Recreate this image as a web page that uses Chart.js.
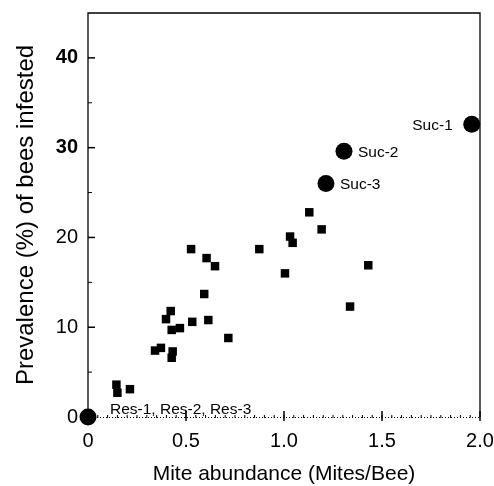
<!DOCTYPE html>
<html>
<head>
<meta charset="utf-8">
<script src="https://cdn.jsdelivr.net/npm/chart.js@4/dist/chart.umd.min.js"></script>
<style>
  html, body { margin: 0; padding: 0; background: #fff; }
  #wrap { width: 494px; height: 486px; }
</style>
</head>
<body>
<div id="wrap"><canvas id="myChart" width="494" height="486"></canvas></div>
<script>
// colonies (squares)
var squareX = [0.145, 0.15, 0.214, 0.342, 0.372, 0.432, 0.427, 0.398, 0.422, 0.427, 0.469, 0.532, 0.526, 0.605, 0.648, 0.593, 0.614, 0.716, 0.874, 1.005, 1.031, 1.044, 1.129, 1.192, 1.337, 1.430];
var squareY = [3.6, 2.7, 3.1, 7.4, 7.7, 7.3, 6.6, 10.9, 11.8, 9.7, 9.9, 10.6, 18.7, 17.7, 16.8, 13.7, 10.8, 8.8, 18.7, 16.0, 20.1, 19.4, 22.8, 20.9, 12.3, 16.9];
// susceptible lines
var sucNames = ['Suc-1', 'Suc-2', 'Suc-3'];
var sucX = [1.958, 1.306, 1.214];
var sucY = [32.6, 29.6, 26.0];
// resistant lines (all at zero)
var resNames = 'Res-1, Res-2, Res-3';
var resX = [0];
var resY = [0];

var yTicks = [0, 10, 20, 30, 40];
var yMinor = [5, 15, 25, 35];
var xTicks = [0, 0.5, 1.0, 1.5, 2.0];

var fontFam = '"Liberation Sans", Arial, sans-serif';

function toPoints(xs, ys) {
  var pts = [];
  for (var i = 0; i < xs.length; i++) {
    pts.push({x: xs[i], y: ys[i]});
  }
  return pts;
}

// frame, inward ticks and point labels
var decorations = {
  id: 'decorations',
  afterDatasetsDraw: function(chart) {
    var ctx = chart.ctx;
    var a = chart.chartArea;
    var xs = chart.scales.x, ys = chart.scales.y;
    ctx.save();
    ctx.strokeStyle = '#000';
    ctx.lineWidth = 1.3;
    ctx.beginPath();
    ctx.moveTo(a.left, a.bottom);
    ctx.lineTo(a.left, a.top);
    ctx.lineTo(a.right, a.top);
    ctx.lineTo(a.right, a.bottom);
    ctx.stroke();

    // dotted bottom axis
    ctx.lineWidth = 1.2;
    ctx.setLineDash([1, 2]);
    ctx.beginPath();
    ctx.moveTo(a.left, a.bottom + 0.5);
    ctx.lineTo(a.right, a.bottom + 0.5);
    ctx.stroke();
    ctx.setLineDash([]);

    // y ticks inward
    ctx.lineWidth = 1.5;
    yTicks.forEach(function(v) {
      var py = ys.getPixelForValue(v);
      ctx.beginPath();
      ctx.moveTo(a.left, py);
      ctx.lineTo(a.left + 7, py);
      ctx.stroke();
    });
    ctx.lineWidth = 1;
    yMinor.forEach(function(v) {
      var py = ys.getPixelForValue(v);
      ctx.beginPath();
      ctx.moveTo(a.left, py);
      ctx.lineTo(a.left + 4, py);
      ctx.stroke();
    });
    // x ticks crossing
    ctx.lineWidth = 1.5;
    xTicks.forEach(function(v) {
      var px = xs.getPixelForValue(v);
      ctx.beginPath();
      ctx.moveTo(px, a.bottom - 6);
      ctx.lineTo(px, a.bottom + 4);
      ctx.stroke();
    });
    ctx.lineWidth = 1;
    for (var k = 1; k < 40; k++) {
      var px = xs.getPixelForValue(k * 0.05);
      ctx.beginPath();
      ctx.moveTo(px, a.bottom - 2);
      ctx.lineTo(px, a.bottom + 1);
      ctx.stroke();
    }

    // labels
    ctx.fillStyle = '#000';
    ctx.font = '15.5px ' + fontFam;
    ctx.textBaseline = 'middle';
    for (var i = 0; i < sucNames.length; i++) {
      var lx = xs.getPixelForValue(sucX[i]);
      var ly = ys.getPixelForValue(sucY[i]);
      if (i === 0) {
        ctx.textAlign = 'right';
        ctx.fillText(sucNames[i], lx - 19, ly + 1);
      } else {
        ctx.textAlign = 'left';
        ctx.fillText(sucNames[i], lx + 14, ly + 1);
      }
    }
    ctx.textAlign = 'left';
    ctx.fillText(resNames, xs.getPixelForValue(resX[0]) + 22, ys.getPixelForValue(resY[0]) - 7);
    ctx.restore();
  }
};

document.addEventListener('DOMContentLoaded', function() {
  var ctx = document.getElementById('myChart').getContext('2d');
  var chart = new Chart(ctx, {
    type: 'scatter',
    data: {
      datasets: [{
        label: 'Colonies',
        data: toPoints(squareX, squareY),
        pointStyle: 'rect',
        pointRadius: 6,
        backgroundColor: '#000',
        borderColor: '#000',
        borderWidth: 0,
        clip: false
      }, {
        label: 'Susceptible',
        data: toPoints(sucX, sucY),
        pointStyle: 'circle',
        pointRadius: 8.5,
        backgroundColor: '#000',
        borderColor: '#000',
        borderWidth: 0,
        clip: false
      }, {
        label: 'Resistant',
        data: toPoints(resX, resY),
        pointStyle: 'circle',
        pointRadius: 8.5,
        backgroundColor: '#000',
        borderColor: '#000',
        borderWidth: 0,
        clip: false
      }]
    },
    options: {
      responsive: false,
      animation: false,
      events: [],
      layout: { padding: { left: 0, right: 14, top: 13, bottom: 0 } },
      plugins: {
        legend: { display: false },
        tooltip: { enabled: false }
      },
      scales: {
        x: {
          type: 'linear',
          min: 0,
          max: 2,
          afterFit: function(s) {
            s.height = 69;
            s.paddingLeft = 0;
            s.paddingRight = 0;
          },
          afterBuildTicks: function(s) {
            s.ticks = xTicks.map(function(v) { return {value: v}; });
          },
          grid: { display: false, drawTicks: false },
          border: { display: false },
          ticks: {
            padding: 12,
            color: '#000',
            font: { family: fontFam, size: 20 },
            callback: function(v) { return v === 0 ? '0' : v.toFixed(1); }
          },
          title: {
            display: true,
            text: 'Mite abundance (Mites/Bee)',
            color: '#000',
            font: { family: fontFam, size: 21, lineHeight: 1 },
            padding: { top: 4, bottom: 1 }
          }
        },
        y: {
          type: 'linear',
          min: 0,
          max: 45,
          afterFit: function(s) {
            s.width = 88;
            s.paddingTop = 0;
            s.paddingBottom = 0;
          },
          afterBuildTicks: function(s) {
            s.ticks = yTicks.map(function(v) { return {value: v}; });
          },
          grid: { display: false, drawTicks: false },
          border: { display: false },
          ticks: {
            padding: 10,
            color: '#000',
            font: function(c) {
              var heavy = c.tick && c.tick.value >= 30;
              return { family: fontFam, size: 20, weight: heavy ? 'bold' : 'normal' };
            }
          },
          title: {
            display: true,
            text: 'Prevalence (%) of bees infested',
            color: '#000',
            font: { family: fontFam, size: 24 },
            padding: { top: 12, bottom: 0 }
          }
        }
      }
    },
    plugins: [decorations]
  });
});
</script>
</body>
</html>
